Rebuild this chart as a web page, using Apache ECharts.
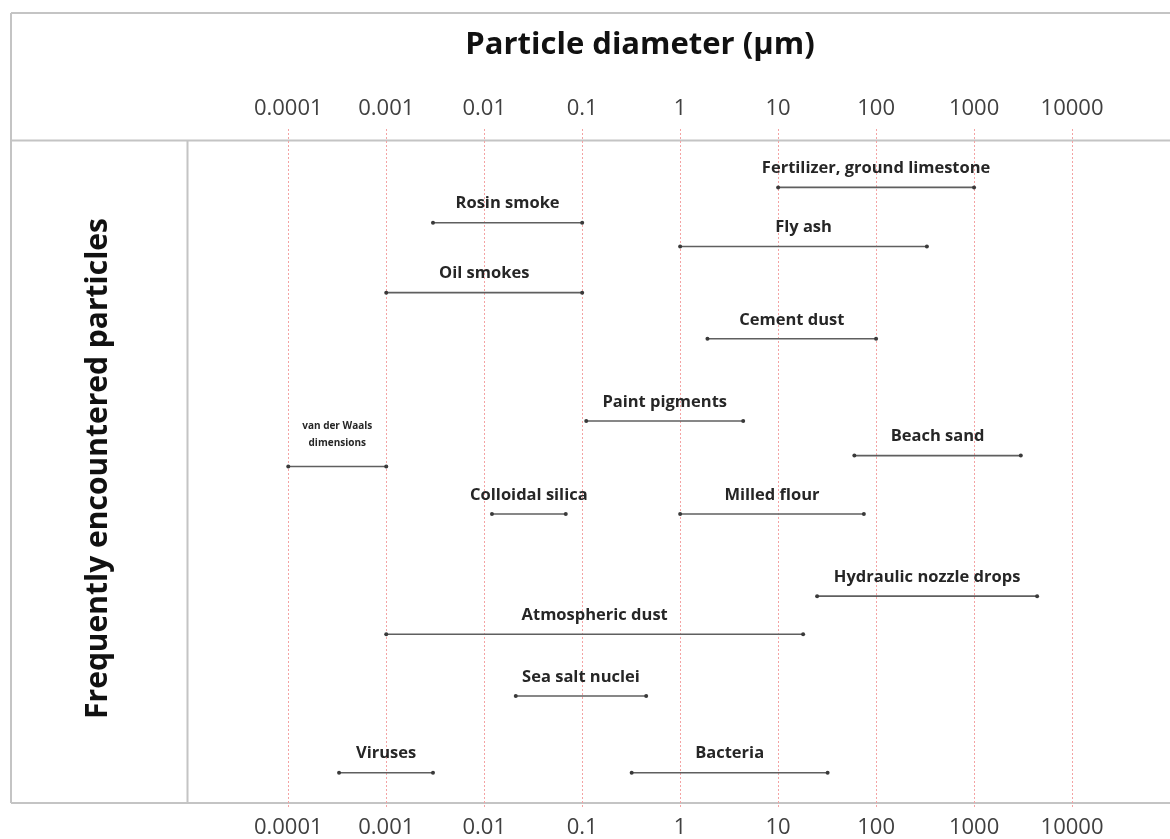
<!DOCTYPE html>
<html>
<head>
<meta charset="utf-8">
<script src="https://cdn.jsdelivr.net/npm/echarts@6/dist/echarts.min.js"></script>
<style>
html,body{margin:0;padding:0;background:#fff;}
#chart{width:1170px;height:839px;}
</style>
</head>
<body>
<div id="chart"></div>
<script>
// ---- data ----
const names = [
  'Fertilizer, ground limestone',
  'Rosin smoke',
  'Fly ash',
  'Oil smokes',
  'Cement dust',
  'Paint pigments',
  'Beach sand',
  'van der Waals\ndimensions',
  'Colloidal silica',
  'Milled flour',
  'Hydraulic nozzle drops',
  'Atmospheric dust',
  'Sea salt nuclei',
  'Viruses',
  'Bacteria'
];
const lowDiameter  = [10, 0.003, 1, 0.001, 1.9, 0.11, 60, 0.0001, 0.012, 1, 25, 0.001, 0.021, 0.00033, 0.32];
const highDiameter = [1000, 0.1, 330, 0.1, 100, 4.4, 3000, 0.001, 0.068, 75, 4400, 18, 0.45, 0.003, 32];
const rowPos       = [8.6, 13.8, 17.3, 24.1, 30.9, 43.0, 48.1, 49.7, 56.7, 56.7, 68.8, 74.4, 83.5, 94.8, 94.8];
const tickLabels = ['0.0001', '0.001', '0.01', '0.1', '1', '10', '100', '1000', '10000'];
const titleText = 'Particle diameter (\u03bcm)';
const yName = 'Frequently encountered particles';

const seriesData = names.map((n, i) => [lowDiameter[i], highDiameter[i], rowPos[i], n]);

function fmt(v) {
  const e = Math.round(Math.log10(v));
  const s = tickLabels[e + 4];
  return s === undefined ? '' : s;
}

const FONT = '"Open Sans", "Noto Sans", sans-serif';
const chart = echarts.init(document.getElementById('chart'));
const FRAME = '#c4c4c4';
const baseAxis = {
  type: 'log',
  logBase: 10,
  min: 0.00001,
  max: 100000,
  interval: 1,
  axisLine: { show: false },
  axisTick: { show: false },
  axisLabel: {
    formatter: fmt,
    color: '#404040',
    fontFamily: FONT,
    fontSize: 22,
    margin: 9,
    showMinLabel: false,
    showMaxLabel: false
  }
};

chart.setOption({
  animation: false,
  backgroundColor: '#ffffff',
  title: {
    text: titleText,
    left: 635,
    top: 25,
    textAlign: 'center',
    textStyle: { fontFamily: FONT, fontWeight: 'bold', fontSize: 31, color: '#111' }
  },
  grid: { left: 190.3, right: -4.8, top: 129, bottom: 31 },
  xAxis: [
    Object.assign({}, baseAxis, {
      position: 'bottom',
      splitLine: {
        show: true,
        showMinLine: false,
        showMaxLine: false,
        lineStyle: { color: '#f4a3a3', type: [2, 2], width: 1 }
      }
    }),
    Object.assign({}, baseAxis, {
      position: 'top',
      splitLine: { show: false }
    })
  ],
  yAxis: {
    type: 'value',
    min: 0,
    max: 100,
    inverse: true,
    axisLine: { show: false },
    axisTick: { show: false },
    axisLabel: { show: false },
    splitLine: { show: false },
    name: yName,
    nameLocation: 'middle',
    nameRotate: 90,
    nameGap: 77,
    nameTextStyle: { fontFamily: FONT, fontWeight: 'bold', fontSize: 30, color: '#111' }
  },
  graphic: [
    { type: 'line', shape: { x1: 11, y1: 13, x2: 1170, y2: 13 }, style: { stroke: FRAME, lineWidth: 2 } },
    { type: 'line', shape: { x1: 11, y1: 13, x2: 11, y2: 803 }, style: { stroke: FRAME, lineWidth: 2 } },
    { type: 'line', shape: { x1: 11, y1: 140.5, x2: 1170, y2: 140.5 }, style: { stroke: FRAME, lineWidth: 2 } },
    { type: 'line', shape: { x1: 11, y1: 803, x2: 1170, y2: 803 }, style: { stroke: FRAME, lineWidth: 2 } },
    { type: 'line', shape: { x1: 187.5, y1: 140.5, x2: 187.5, y2: 803 }, style: { stroke: FRAME, lineWidth: 2 } }
  ],
  series: [{
    type: 'custom',
    xAxisIndex: 0,
    yAxisIndex: 0,
    data: seriesData,
    encode: { x: [0, 1], y: 2 },
    renderItem: function (params, api) {
      const p1 = api.coord([api.value(0), api.value(2)]);
      const p2 = api.coord([api.value(1), api.value(2)]);
      const label = names[params.dataIndex];
      const small = label.indexOf('\n') >= 0;
      return {
        type: 'group',
        children: [
          { type: 'line', shape: { x1: p1[0], y1: p1[1], x2: p2[0], y2: p2[1] }, style: { stroke: '#5f5f5f', lineWidth: 1.6 } },
          { type: 'circle', shape: { cx: p1[0], cy: p1[1], r: 2 }, style: { fill: '#3a3a3a' } },
          { type: 'circle', shape: { cx: p2[0], cy: p2[1], r: 2 }, style: { fill: '#3a3a3a' } },
          {
            type: 'text',
            style: {
              text: label,
              x: (p1[0] + p2[0]) / 2,
              y: p1[1] - (small ? 32 : 19),
              align: 'center',
              verticalAlign: 'middle',
              fontFamily: FONT,
              fontWeight: 'bold',
              fontSize: small ? 10 : 16.5,
              lineHeight: small ? 17 : 20,
              fill: '#262626'
            }
          }
        ]
      };
    }
  }]
});
</script>
</body>
</html>
